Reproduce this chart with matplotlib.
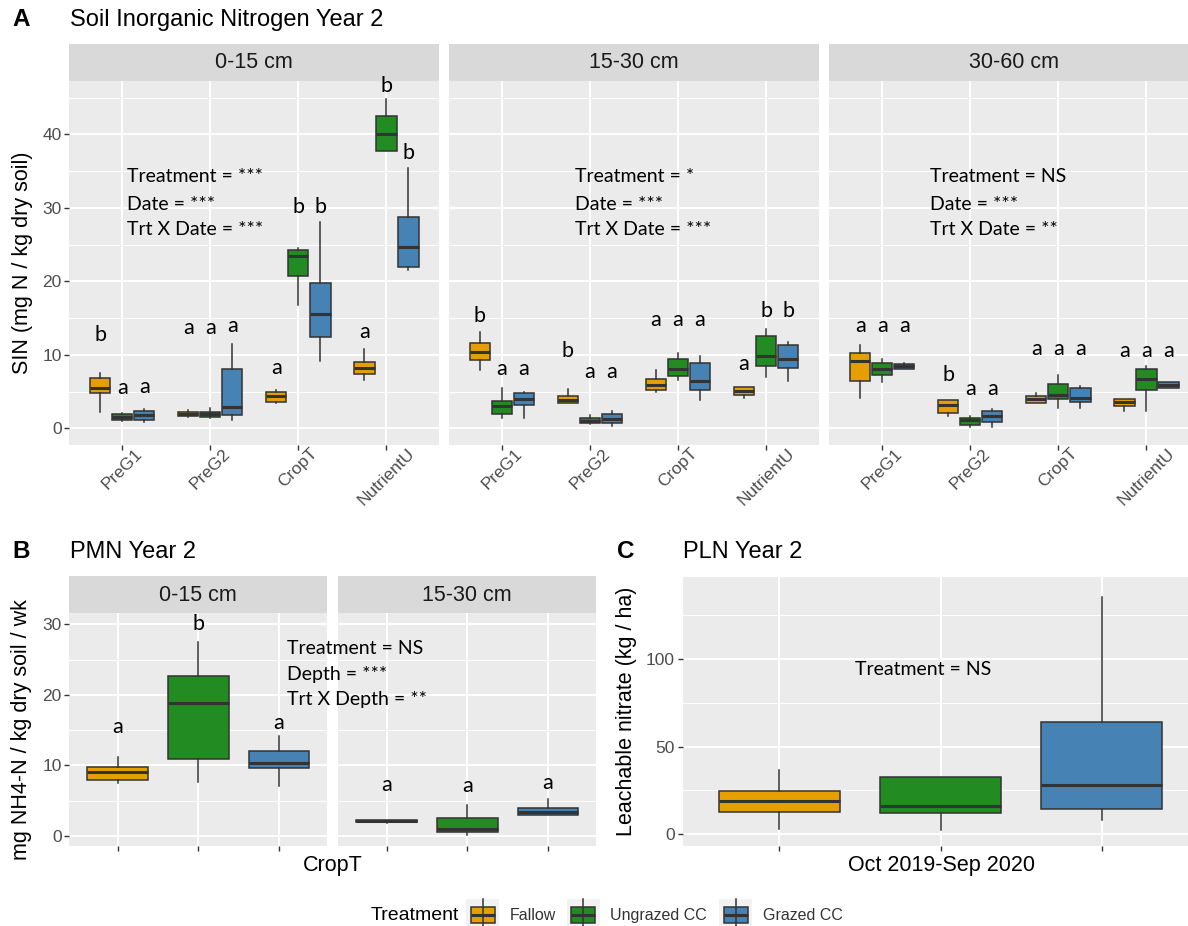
import matplotlib
matplotlib.use("Agg")
import matplotlib.pyplot as plt
from matplotlib.patches import Rectangle
import numpy as np

plt.rcParams['font.family'] = ['Liberation Sans', 'DejaVu Sans']

# ---------------- data ----------------
dates = ["PreG1", "PreG2", "CropT", "NutrientU"]
treatments = ["Fallow", "Ungrazed CC", "Grazed CC"]

# box summaries: (lower whisker, q1, median, q3, upper whisker), one per date
sin_0_15_fallow   = [(2.3, 4.85, 5.5, 6.8, 7.6), (1.6, 1.75, 2.0, 2.3, 2.5), (3.5, 3.6, 4.4, 4.9, 5.2), (6.6, 7.35, 8.25, 9.06, 10.75)]
sin_0_15_ungrazed = [(1.0, 1.1, 1.6, 2.0, 2.1), (1.4, 1.6, 1.9, 2.3, 2.8), (16.8, 20.7, 23.4, 24.2, 24.5), (37.7, 37.7, 40.1, 42.5, 44.8)]
sin_0_15_grazed   = [(0.9, 1.2, 1.8, 2.4, 2.6), (1.1, 1.8, 2.85, 8.07, 11.55), (9.2, 12.4, 15.6, 19.8, 28.1), (21.6, 22.0, 24.7, 28.8, 35.4)]

sin_15_30_fallow   = [(7.9, 9.3, 10.4, 11.65, 13.06), (3.4, 3.4, 3.85, 4.4, 5.3), (5.0, 5.2, 5.9, 6.7, 8.0), (4.08, 4.5, 5.07, 5.66, 5.66)]
sin_15_30_ungrazed = [(1.36, 1.9, 3.08, 3.76, 5.44), (0.6, 0.68, 1.03, 1.36, 1.8), (6.65, 7.1, 8.15, 9.4, 10.2), (6.93, 8.47, 9.84, 12.56, 13.5)]
sin_15_30_grazed   = [(1.36, 3.17, 3.99, 4.85, 4.98), (0.3, 0.68, 1.26, 1.9, 2.35), (3.9, 5.2, 6.5, 8.9, 9.8), (6.5, 8.25, 9.4, 11.3, 11.8)]

sin_30_60_fallow   = [(4.08, 6.5, 9.2, 10.3, 11.3), (1.67, 2.12, 3.17, 3.85, 3.85), (3.4, 3.4, 3.99, 4.4, 4.85), (2.4, 3.08, 3.63, 3.95, 3.95)]
sin_30_60_ungrazed = [(6.35, 7.25, 8.15, 8.9, 9.4), (0.22, 0.45, 1.13, 1.44, 1.67), (2.72, 3.95, 4.53, 5.98, 7.25), (2.4, 5.2, 6.66, 8.15, 8.47)]
sin_30_60_grazed   = [(8.1, 8.15, 8.47, 8.8, 8.9), (0.22, 0.9, 1.67, 2.4, 2.58), (2.72, 3.63, 4.08, 5.44, 5.75), (5.44, 5.44, 5.9, 6.35, 6.35)]

# significance letters per date (Fallow, Ungrazed, Grazed) and their heights
sin_letters_0_15  = [["b", "a", "a"], ["a", "a", "a"], ["a", "b", "b"], ["a", "b", "b"]]
sin_letter_y_0_15 = [[12.7, 5.5, 5.6], [13.6, 13.6, 13.9], [8.25, 30.1, 30.1], [13.1, 46.6, 37.4]]
sin_letters_15_30  = [["b", "a", "a"], ["b", "a", "a"], ["a", "a", "a"], ["a", "b", "b"]]
sin_letter_y_15_30 = [[15.3, 8.15, 8.15], [10.56, 7.7, 7.7], [14.8, 14.8, 14.8], [8.8, 16.0, 16.0]]
sin_letters_30_60  = [["a", "a", "a"], ["b", "a", "a"], ["a", "a", "a"], ["a", "a", "a"]]
sin_letter_y_30_60 = [[13.9, 13.9, 13.9], [7.25, 5.3, 5.3], [10.75, 10.75, 10.75], [10.56, 10.56, 10.56]]

sin_stats_text = [["Treatment = ***", "Date = ***", "Trt X Date = ***"],
                  ["Treatment = *", "Date = ***", "Trt X Date = ***"],
                  ["Treatment = NS", "Date = ***", "Trt X Date = **"]]

# PMN (per treatment)
pmn_0_15  = [(7.45, 8.0, 9.0, 9.8, 11.15), (7.7, 10.85, 18.9, 22.7, 27.5), (7.1, 9.7, 10.4, 12.0, 14.1)]
pmn_15_30 = [(1.9, 1.95, 2.1, 2.25, 2.3), (0.14, 0.6, 0.95, 2.6, 4.4), (3.0, 3.0, 3.36, 3.9, 5.2)]
pmn_letters = [["a", "b", "a"], ["a", "a", "a"]]
pmn_letter_y = [[15.5, 30.0, 16.05], [7.2, 7.15, 7.55]]
pmn_stats_text = ["Treatment = NS", "Depth = ***", "Trt X Depth = **"]

# PLN (per treatment)
pln = [(2.8, 12.9, 19.2, 24.7, 36.7), (2.5, 12.0, 16.3, 32.9, 32.9), (8.15, 14.25, 28.1, 63.9, 135.5)]

# ---------------- style ----------------
W, H = 1188, 926
colors = ["#E69F00", "#228B22", "#4682B4"]
EDGE = "#333333"
PANEL = "#EBEBEB"
STRIP = "#D9D9D9"
TICKC = "#4D4D4D"
ANN_FONT = ["Lato", "DejaVu Sans"]

fig = plt.figure(figsize=(W / 100, H / 100), dpi=100)
fig.patch.set_facecolor("white")


def ax_px(l, t, r, b, **kw):
    return fig.add_axes([l / W, 1 - b / H, (r - l) / W, (b - t) / H], **kw)


def style(ax, ylim, yt, ymin, xlim, left_labels):
    ax.set_facecolor(PANEL)
    for s in ax.spines.values():
        s.set_visible(False)
    ax.set_xlim(*xlim)
    ax.set_ylim(*ylim)
    ax.set_yticks(yt)
    ax.set_yticks(ymin, minor=True)
    ax.grid(which="major", color="white", lw=1.4)
    ax.grid(which="minor", axis="y", color="white", lw=0.7)
    ax.set_axisbelow(True)
    ax.tick_params(which="major", length=3.5, width=1, color=EDGE, labelcolor=TICKC, labelsize=12.5, pad=2)
    ax.tick_params(which="minor", length=0)
    if not left_labels:
        ax.tick_params(axis="y", which="both", left=False, labelleft=False)


def strip(l, t, r, b, label):
    # strips sit below the panels in drawing order so letters may overlap them
    s = ax_px(l, t, r, b, zorder=0)
    s.set_facecolor(STRIP)
    s.set_xticks([])
    s.set_yticks([])
    for sp in s.spines.values():
        sp.set_visible(False)
    s.text(0.5, 0.48, label, ha="center", va="center", fontsize=15.5, color="#1A1A1A", transform=s.transAxes)


def boxes(ax, summ, positions, color, width):
    stats = [dict(whislo=s[0], q1=s[1], med=s[2], q3=s[3], whishi=s[4], fliers=[]) for s in summ]
    ax.bxp(stats, positions=positions, widths=width, patch_artist=True, showfliers=False,
           showcaps=False, manage_ticks=False,
           boxprops=dict(facecolor=color, edgecolor=EDGE, linewidth=1.1),
           medianprops=dict(color=EDGE, linewidth=2.2, solid_capstyle="butt"),
           whiskerprops=dict(color=EDGE, linewidth=1.1))


# ---------------- panel A ----------------
sin_data = [[sin_0_15_fallow, sin_0_15_ungrazed, sin_0_15_grazed],
            [sin_15_30_fallow, sin_15_30_ungrazed, sin_15_30_grazed],
            [sin_30_60_fallow, sin_30_60_ungrazed, sin_30_60_grazed]]
sin_letters = [sin_letters_0_15, sin_letters_15_30, sin_letters_30_60]
sin_letter_y = [sin_letter_y_0_15, sin_letter_y_15_30, sin_letter_y_30_60]
depths_A = ["0-15 cm", "15-30 cm", "30-60 cm"]
lefts_A = [69.3, 449.0, 829.3]
ann_x_A = [1.055, 1.83, 1.543]
ann_y_A = [34.2, 30.5, 27.0]

for i, l in enumerate(lefts_A):
    ax = ax_px(l, 81, l + 370, 445, zorder=1)
    style(ax, (-2.25, 47.25), [0, 10, 20, 30, 40], [5, 15, 25, 35, 45], (0.4, 4.6), i == 0)
    xs = np.arange(1, len(dates) + 1)
    for j, col in enumerate(colors):
        off = (j - 1) * 0.25
        boxes(ax, sin_data[i][j], xs + off, col, 0.23)
        for k in range(len(dates)):
            ax.text(xs[k] + off, sin_letter_y[i][k][j], sin_letters[i][k][j], ha="center", va="center",
                    fontsize=15.5, family=ANN_FONT, color="black", clip_on=False)
    ax.set_xticks(xs)
    ax.set_xticklabels(dates, rotation=45, ha="center", va="top")
    ax.tick_params(axis="x", pad=-3)
    for t, yy in zip(sin_stats_text[i], ann_y_A):
        ax.text(ann_x_A[i], yy, t, ha="left", va="center", fontsize=14, family=ANN_FONT)
    strip(l, 43.5, l + 370, 81, depths_A[i])

fig.text(23 / W, 1 - 263 / H, "SIN (mg N / kg dry soil)", rotation=90, ha="center", va="center", fontsize=15.5)
fig.text(12 / W, 1 - 20 / H, "A", ha="left", va="center", fontsize=17.5, weight="bold")
fig.text(70 / W, 1 - 20 / H, "Soil Inorganic Nitrogen Year 2", ha="left", va="center", fontsize=17)

# ---------------- panel B ----------------
pmn_data = [pmn_0_15, pmn_15_30]
depths_B = ["0-15 cm", "15-30 cm"]
lefts_B = [69.3, 338.3]
pmn_axes = []
for i, l in enumerate(lefts_B):
    ax = ax_px(l, 613.3, l + 258, 846, zorder=1)
    pmn_axes.append(ax)
    style(ax, (-1.42, 31.55), [0, 10, 20, 30], [5, 15, 25], (0.4, 3.6), i == 0)
    xs = np.arange(1, len(treatments) + 1)
    for j, col in enumerate(colors):
        boxes(ax, [pmn_data[i][j]], [xs[j]], col, 0.75)
        ax.text(xs[j], pmn_letter_y[i][j], pmn_letters[i][j], ha="center", va="center",
                fontsize=15.5, family=ANN_FONT, clip_on=False)
    ax.set_xticks(xs)
    ax.set_xticklabels([""] * len(xs))
    strip(l, 576, l + 258, 613.3, depths_B[i])

# statistics text spans both facets, so draw it at figure level on top
for t, yy in zip(pmn_stats_text, [26.6, 22.9, 19.3]):
    fig.text(3.105, yy, t, ha="left", va="center", fontsize=14, family=ANN_FONT,
             transform=pmn_axes[0].transData, zorder=10)

fig.text(21.7 / W, 1 - 730 / H, "mg NH4-N / kg dry soil / wk", rotation=90, ha="center", va="center", fontsize=15.5)
fig.text(332.8 / W, 1 - 866 / H, "CropT", ha="center", va="center", fontsize=15.5)
fig.text(12 / W, 1 - 552 / H, "B", ha="left", va="center", fontsize=17.5, weight="bold")
fig.text(70 / W, 1 - 552 / H, "PMN Year 2", ha="left", va="center", fontsize=17)

# ---------------- panel C ----------------
ax = ax_px(682.7, 576.7, 1198.6, 846, zorder=1)
style(ax, (-6.7, 146.9), [0, 50, 100], [25, 75, 125], (0.4, 3.6), True)
xs = np.arange(1, len(treatments) + 1)
for j, col in enumerate(colors):
    boxes(ax, [pln[j]], [xs[j]], col, 0.75)
ax.set_xticks(xs)
ax.set_xticklabels([""] * len(xs))
ax.text(1.47, 93.7, "Treatment = NS", ha="left", va="center", fontsize=14, family=ANN_FONT)

fig.text(626.7 / W, 1 - 711 / H, "Leachable nitrate (kg / ha)", rotation=90, ha="center", va="center", fontsize=15.5)
fig.text(941 / W, 1 - 866 / H, "Oct 2019-Sep 2020", ha="center", va="center", fontsize=15.5)
fig.text(617 / W, 1 - 552 / H, "C", ha="left", va="center", fontsize=17.5, weight="bold")
fig.text(683 / W, 1 - 552 / H, "PLN Year 2", ha="left", va="center", fontsize=17)

# ---------------- legend ----------------
lg = fig.add_axes([0, 0, 1, 1], facecolor="none", zorder=2)
lg.set_xlim(0, W)
lg.set_ylim(H, 0)
lg.axis("off")
lg.text(370.7, 915.5, "Treatment", ha="left", va="center", fontsize=14, color="black")
key_x = [466, 566.7, 719.3]
lab_x = [510, 610, 763.3]
for kx, lx, col, name in zip(key_x, lab_x, colors, treatments):
    cx, cy = kx + 16.5, 915
    lg.add_patch(Rectangle((kx, cy - 16.5), 33, 33, facecolor="#F2F2F2", edgecolor="none"))
    lg.plot([cx, cx], [cy - 16, cy + 16], color=EDGE, lw=1.1)
    lg.add_patch(Rectangle((cx - 12, cy - 8.3), 24, 16.6, facecolor=col, edgecolor=EDGE, lw=1.1))
    lg.plot([cx - 12, cx + 12], [cy, cy], color=EDGE, lw=2.2, solid_capstyle="butt")
    lg.text(lx, 915.5, name, ha="left", va="center", fontsize=11.5, color="#333333")

fig.savefig("out.png", dpi=100, facecolor="white")
